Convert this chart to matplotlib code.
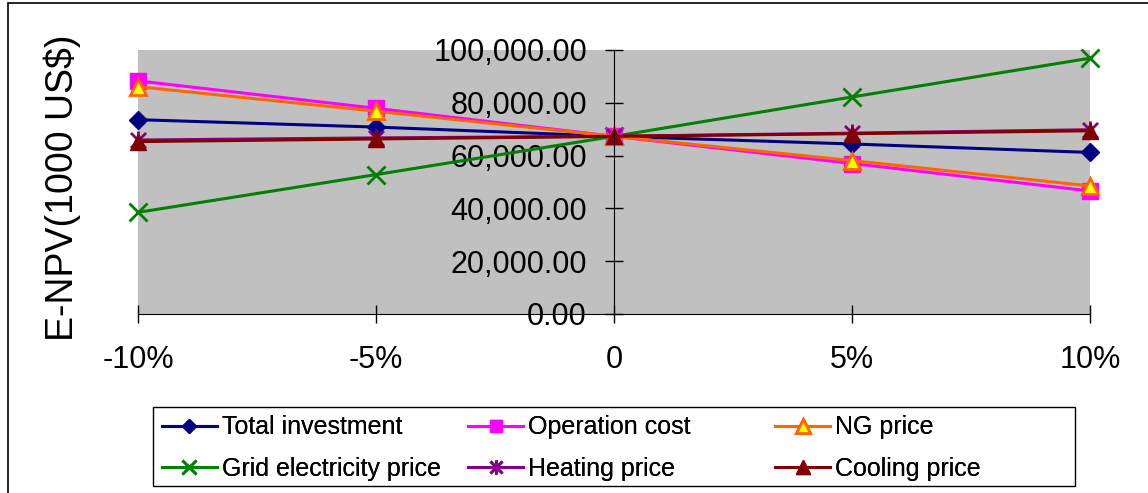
import matplotlib
matplotlib.use("Agg")
from matplotlib import pyplot as plt
from matplotlib.path import Path
from matplotlib.patches import Rectangle
from matplotlib.ticker import FuncFormatter

plt.rcParams["font.family"] = ["Liberation Sans", "DejaVu Sans"]

# sensitivity categories
changes = ["-10%", "-5%", "0", "5%", "10%"]

# E-NPV (1000 US$) per parameter
total_investment = [73600, 70800, 67300, 64400, 61200]
operation_cost = [88300, 77900, 67300, 57000, 46600]
ng_price = [86100, 76800, 67300, 58100, 48500]
grid_price = [38500, 52800, 67300, 82200, 96900]
heating_price = [65900, 66700, 67300, 68500, 69800]
cooling_price = [65300, 66300, 67300, 68300, 69400]

star = Path(
    [(-1, -1), (1, 1), (-1, 1), (1, -1), (0, -1.2), (0, 1.2)],
    [Path.MOVETO, Path.LINETO, Path.MOVETO, Path.LINETO, Path.MOVETO, Path.LINETO],
)

fig = plt.figure(figsize=(11.48, 4.93), dpi=100)
ax = fig.add_axes([0.1202, 0.3631, 0.8293, 0.5355])
ax.set_facecolor("#C0C0C0")

x = range(len(changes))
lw = 2.2
l1, = ax.plot(x, total_investment, color="#000080", marker="D", ms=9, lw=lw, label="Total investment")
l4, = ax.plot(x, grid_price, color="#008000", marker="x", ms=13, mew=2, lw=lw, label="Grid electricity price")
l2, = ax.plot(x, operation_cost, color="#FF00FF", marker="s", ms=11, lw=lw, label="Operation cost")
l5, = ax.plot(x, heating_price, color="#800080", marker=star, ms=13, mew=2, lw=lw, label="Heating price")
l3, = ax.plot(x, ng_price, color="#FF6600", marker="^", ms=12, mfc="#FFFF00", mec="#FF6600", mew=2,
              lw=lw, label="NG price")
l6, = ax.plot(x, cooling_price, color="#800000", marker="^", ms=12, lw=lw, label="Cooling price")

for ln in (l1, l2, l3, l4, l5, l6):
    ln.set_clip_on(False)

ax.set_xlim(0, len(changes) - 1)
ax.set_ylim(0, 100000)
ax.set_xticks(list(x))
ax.set_xticklabels(changes)
ax.set_yticks(range(0, 100001, 20000))
ax.yaxis.set_major_formatter(FuncFormatter(lambda v, p: f"{v:,.2f}"))

ax.spines["left"].set_position(("data", 2))
ax.spines["top"].set_visible(False)
ax.spines["right"].set_visible(False)
ax.tick_params(axis="both", direction="inout", length=13, width=1, labelsize=22)
ax.tick_params(axis="x", pad=16)
ax.tick_params(axis="y", pad=13)

fig.text(0.054, 0.62, "E-NPV(1000 US$)", rotation=90, ha="center", va="center", fontsize=27)

# legend box and three columns
fig.patches.append(Rectangle((0.1333, 0.0142), 0.8031, 0.1602, transform=fig.transFigure,
                             facecolor="white", edgecolor="black", lw=1))
cols = [((l1, l4), 0.1411), ((l2, l5), 0.4077), ((l3, l6), 0.6751)]
for handles, xpos in cols:
    leg = fig.legend(handles=list(handles), loc="center left", bbox_to_anchor=(xpos, 0.091),
                     bbox_transform=fig.transFigure, frameon=False, fontsize=18,
                     handlelength=2.2, handletextpad=0.2, borderpad=0, borderaxespad=0,
                     labelspacing=0.7, markerscale=0.8)
    fig.add_artist(leg)

fig.patches.append(Rectangle((0.007, -0.1), 1.2, 1.094, transform=fig.transFigure,
                             fill=False, edgecolor="black", lw=1.2))

plt.savefig("out.png", dpi=100)
